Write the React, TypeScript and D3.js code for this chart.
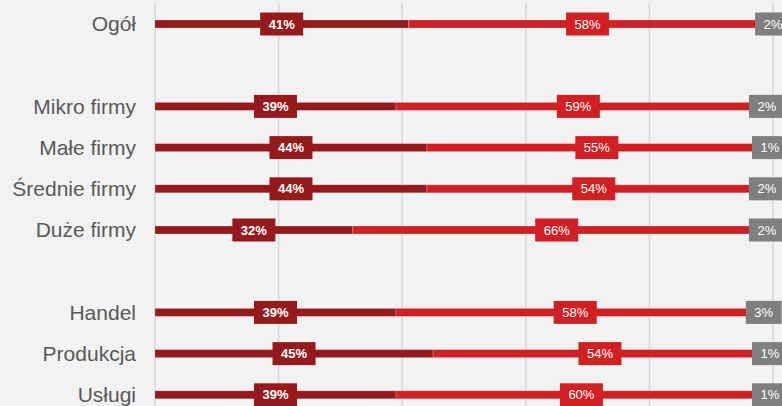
import React from 'react';
import { scaleLinear, scaleBand } from 'd3';

const categories = ['Ogół', '', 'Mikro firmy', 'Małe firmy', 'Średnie firmy', 'Duże firmy', ' ', 'Handel', 'Produkcja', 'Usługi'];
const seriesA = [41, null, 39, 44, 44, 32, null, 39, 45, 39];
const seriesB = [58, null, 59, 55, 54, 66, null, 58, 54, 60];
const seriesC = [2, null, 2, 1, 2, 2, null, 3, 1, 1];
const ticks = [0, 20, 40, 60, 80, 100];

const W = 782;
const H = 406;
const colors = ['#951a1d', '#d02023', '#7f7f7f'];
const FONT = 'Liberation Sans, Arial, sans-serif';

// rough Arial widths, enough to size the label boxes
const labelWidth = (s: string, size: number) =>
  s.split('').reduce((w, ch) => w + (ch === '%' ? 0.889 : 0.556), 0) * size;

const App = () => {
  const x = scaleLinear().domain([0, 100]).range([155, 773]);
  const y = scaleBand<string>().domain(categories).range([3.4, 415.4]).padding(0);
  const barH = 8;
  const boxH = 23;
  const lblSize = 13;

  const rows = categories
    .map((c, i) => ({ c, i, vals: [seriesA[i], seriesB[i], seriesC[i]] }))
    .filter((r) => r.vals[0] != null);

  return (
    <div style={{ position: 'fixed', left: 0, top: 0 }}>
      <svg width={W} height={H} style={{ display: 'block', background: '#f2f2f2' }}>
        <rect width={W} height={H} fill="#f2f2f2" />
        {ticks.map((t) => (
          <line key={t} x1={x(t)} x2={x(t)} y1={3} y2={H} stroke="#d9d9d9" strokeWidth={1.6} />
        ))}
        {rows.map((r) => {
          const cy = (y(r.c) as number) + y.bandwidth() / 2;
          let acc = 0;
          const segs = r.vals.map((v, k) => {
            const s = { k, v: v as number, x0: x(acc), x1: x(acc + (v as number)) };
            acc += v as number;
            return s;
          });
          return (
            <g key={r.c}>
              <text x={136} y={cy} dy="0.35em" textAnchor="end" fontFamily={FONT} fontSize={21} fill="#595959">
                {r.c}
              </text>
              {segs.map((s) => (
                <rect
                  key={'b' + s.k}
                  x={s.x0}
                  y={cy - barH / 2}
                  width={s.x1 - s.x0}
                  height={barH}
                  fill={colors[s.k]}
                  stroke="rgba(255,255,255,0.25)"
                  strokeWidth={0.8}
                />
              ))}
              {segs.map((s) => {
                const mx = (s.x0 + s.x1) / 2;
                const txt = s.v + '%';
                const bw = labelWidth(txt, lblSize) + 17;
                return (
                  <g key={'l' + s.k}>
                    <rect x={mx - bw / 2} y={cy - boxH / 2} width={bw} height={boxH} fill={colors[s.k]} />
                    <text
                      x={mx}
                      y={cy}
                      dy="0.36em"
                      textAnchor="middle"
                      fontFamily={FONT}
                      fontSize={lblSize}
                      fontWeight={s.k === 0 ? 'bold' : 'normal'}
                      fill="#ffffff"
                    >
                      {txt}
                    </text>
                  </g>
                );
              })}
            </g>
          );
        })}
      </svg>
    </div>
  );
};

export default App;
